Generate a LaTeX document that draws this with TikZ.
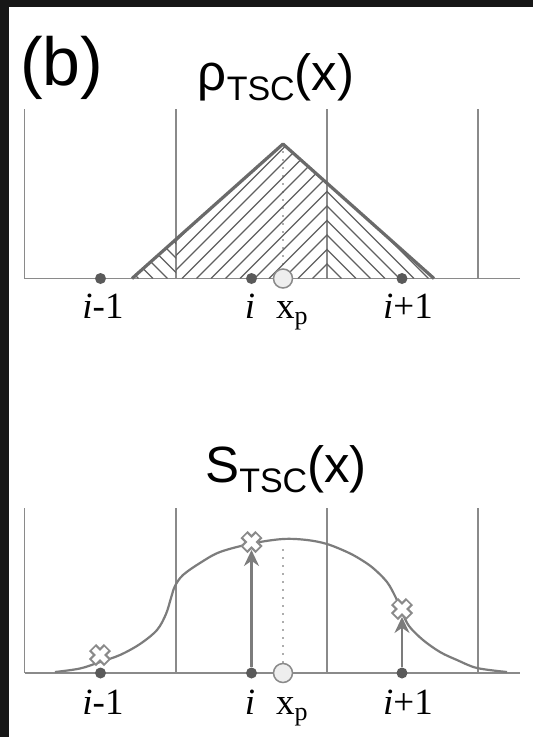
\documentclass[tikz,border=0pt]{standalone}
\usepackage{fontspec}
\setmainfont{Liberation Serif}
\newfontfamily\headfont{Liberation Sans}
\usetikzlibrary{arrows.meta}
\definecolor{gridgray}{HTML}{8A8A8A}
\definecolor{edgegray}{HTML}{6A6A6A}
\definecolor{hatchgray}{HTML}{606060}
\definecolor{dotgray}{HTML}{5A5A5A}
\definecolor{framebg}{HTML}{171717}
\definecolor{ptfill}{HTML}{EEEEEE}
\tikzset{
  gridline/.style={gridgray, line width=1.7pt},
  edge/.style={edgegray, line width=3.2pt, line join=round},
  hatch/.style={hatchgray, line width=1.2pt},
  dotline/.style={dotgray, line width=1.7pt, line cap=round, dash pattern=on 0pt off 8pt},
  gpt/.style={circle, fill=dotgray, inner sep=0pt, minimum size=11pt},
  ppt/.style={circle, draw=gridgray, fill=ptfill, line width=1.5pt, inner sep=0pt, minimum size=19pt},
  lbl/.style={anchor=base, inner sep=0pt, font=\fontsize{37}{42}\selectfont},
  head/.style={anchor=base, inner sep=0pt, font=\headfont\fontsize{51}{56}\selectfont},
  shape curve/.style={gridgray!90!black, line width=2.2pt},
  vec/.style={gridgray!90!black, line width=2.3pt, -{Stealth[length=16pt,width=15pt]}},
  xmark/.pic={
    \draw[gridgray, line width=10pt] (-7.5,-7.5) -- (7.5,7.5) (-7.5,7.5) -- (7.5,-7.5);
    \draw[white, line width=5.6pt] (-6.2,-6.2) -- (6.2,6.2) (-6.2,6.2) -- (6.2,-6.2);
  }
}
\newcommand{\subTSC}{\raisebox{-10pt}{\fontsize{34}{36}\selectfont TSC}}
\newcommand{\xp}{x\raisebox{-6pt}{\fontsize{26}{28}\selectfont p}}
\begin{document}
\begin{tikzpicture}[x=1pt,y=-1pt]
\useasboundingbox (0,0) rectangle (533,737);
\fill[framebg] (0,0) rectangle (533,737);
\fill[white] (8.5,7) rectangle (533,737);

% panel label and titles
\node[anchor=base west, inner sep=0pt, font=\headfont\fontsize{68}{72}\selectfont] (tag) at (20,85) {(b)};
\node[head] (rhotitle) at (276,90) {ρ\subTSC(x)};
\node[head] (stitle) at (286,482) {S\subTSC(x)};

% ---- charge assignment (upper) ----
\foreach \x in {24.5,176,327,478} \draw[gridline] (\x,109) -- (\x,278.5);
\draw[gridline] (24.5,278.5) -- (520,278.5);
\coordinate (apex) at (283,144);
\begin{scope}
  \clip (132,278.5) -- (apex) -- (434,278.5) -- cycle;
  \begin{scope}
    \clip (120,100) rectangle (176,280);
    \foreach \k in {-14,...,0} \draw[hatch] (327+14.5*\k,278.5) -- +(-200,-200);
  \end{scope}
  \begin{scope}
    \clip (176,100) rectangle (327,280);
    \foreach \k in {0,...,21} \draw[hatch] (327-14.5*\k,278.5) -- +(200,-200);
  \end{scope}
  \begin{scope}
    \clip (327,100) rectangle (440,280);
    \foreach \k in {0,...,8} \draw[hatch] (327+14.5*\k,278.5) -- +(-200,-200);
  \end{scope}
\end{scope}
\draw[edge] (132,278.5) -- (apex) -- (434,278.5);
\node[gpt] (ga) at (100.5,278.5) {};
\node[gpt] (gb) at (251.5,278.5) {};
\node[gpt] (gc) at (402,278.5) {};
\node[ppt] (pa) at (283,278.5) {};
\draw[dotline] (apex) ++(0,8) -- (pa.north);
\node[lbl] (la) at (103,318) {\textit{i}-1};
\node[lbl] (lb) at (250,318) {\textit{i}};
\node[lbl, anchor=base west] (lxa) at (276,318) {\xp};
\node[lbl] (lc) at (408,318) {\textit{i}+1};

% ---- shape function (lower) ----
\foreach \x in {24.5,176,327,478} \draw[gridline] (\x,508) -- (\x,673);
\draw[gridline] (24.5,673) -- (520,673);
\draw[shape curve] plot[smooth, tension=0.55] coordinates {
  (55,672) (80,668.5) (100,662) (120,655) (140,644) (157,630) (166,614)
  (171,598) (175,586) (183,575) (200,563) (220,552) (252,543.5) (283,539)
  (307,540) (327,544) (347,552) (360,559) (373,568) (387,582) (396,598)
  (402,612) (409,626) (423,640) (440,652) (457,660) (477,668) (507,672)};
\node[gpt] (gd) at (100.5,673) {};
\node[gpt] (ge) at (251.5,673) {};
\node[gpt] (gf) at (402,673) {};
\coordinate (ca) at (100,655);
\coordinate (cb) at (251.5,542);
\coordinate (cc) at (402,609);
\draw[vec] (ge) -- ([yshift=-8pt]cb);
\draw[vec] (gf) -- ([yshift=-8pt]cc);
\pic at (ca) {xmark};
\pic at (cb) {xmark};
\pic at (cc) {xmark};
\node[ppt] (pb) at (283,673) {};
\draw[dotline] (283,550) -- (pb.north);
\node[lbl] (ld) at (103,714) {\textit{i}-1};
\node[lbl] (le) at (250,714) {\textit{i}};
\node[lbl, anchor=base west] (lxb) at (276,714) {\xp};
\node[lbl] (lf) at (408,714) {\textit{i}+1};
\end{tikzpicture}
\end{document}
